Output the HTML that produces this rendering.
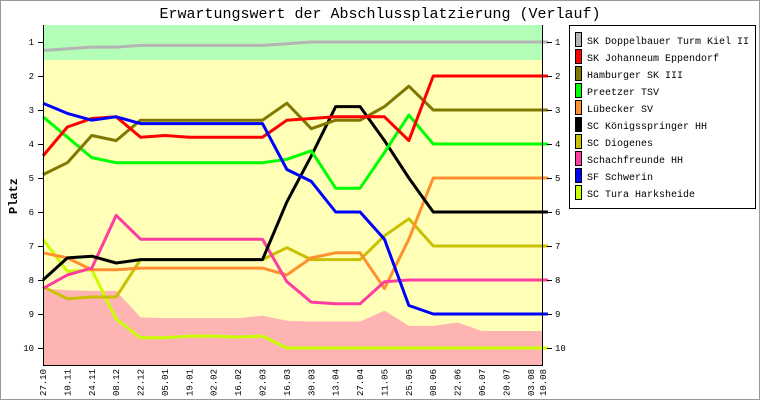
<!DOCTYPE html>
<html><head><meta charset="utf-8"><style>
html,body{margin:0;padding:0;background:#fff}
svg{display:block}
text{font-family:"Liberation Mono","DejaVu Sans Mono",monospace}
</style></head><body>
<svg width="760" height="400" xmlns="http://www.w3.org/2000/svg">
<rect x="0.5" y="0.5" width="759" height="399" fill="#fff" stroke="#999"/>
<text x="380" y="18" font-size="15" text-anchor="middle">Erwartungswert der Abschlussplatzierung (Verlauf)</text>
<rect x="43" y="25" width="500" height="340" fill="#ffffb8"/>
<rect x="43" y="25" width="500" height="35" fill="#b4ffb8"/>
<g transform="translate(43,8) scale(24.39,34)">
<polygon fill="#ffb4b4" points="0,8.25 1,8.3 2,8.32 3,8.32 4,9.1 5,9.12 6,9.12 7,9.12 8,9.12 9,9.05 10,9.2 11,9.22 12,9.22 13,9.22 14,8.9 15,9.35 16,9.35 17,9.25 18,9.5 19,9.5 20.5,9.5 20.5,10.5 0,10.5"/>
<g fill="none" stroke-width="3" stroke-linejoin="round">
<polyline vector-effect="non-scaling-stroke" stroke="#b4b4b4" points="0,1.25 1,1.2 2,1.15 3,1.15 4,1.1 5,1.1 6,1.1 7,1.1 8,1.1 9,1.1 10,1.05 11,1 12,1 13,1 14,1 15,1 16,1 17,1 18,1 19,1 20.7,1"/>
<polyline vector-effect="non-scaling-stroke" stroke="#c8ff00" points="0,6.8 1,7.75 2,7.7 3,9.15 4,9.7 5,9.7 6,9.65 7,9.65 8,9.68 9,9.65 10,10 11,10 12,10 13,10 14,10 15,10 16,10 17,10 18,10 19,10 20.7,10"/>
<polyline vector-effect="non-scaling-stroke" stroke="#c8c000" points="0,8.2 1,8.55 2,8.5 3,8.5 4,7.4 5,7.4 6,7.4 7,7.4 8,7.4 9,7.4 10,7.05 11,7.4 12,7.4 13,7.4 14,6.7 15,6.2 16,7 17,7 18,7 19,7 20.7,7"/>
<polyline vector-effect="non-scaling-stroke" stroke="#ff9030" points="0,7.2 1,7.35 2,7.7 3,7.7 4,7.65 5,7.65 6,7.65 7,7.65 8,7.65 9,7.65 10,7.85 11,7.35 12,7.2 13,7.2 14,8.25 15,6.8 16,5 17,5 18,5 19,5 20.7,5"/>
<polyline vector-effect="non-scaling-stroke" stroke="#ff3ca0" points="0,8.25 1,7.85 2,7.65 3,6.1 4,6.8 5,6.8 6,6.8 7,6.8 8,6.8 9,6.8 10,8.05 11,8.65 12,8.7 13,8.7 14,8.05 15,8 16,8 17,8 18,8 19,8 20.7,8"/>
<polyline vector-effect="non-scaling-stroke" stroke="#000000" points="0,8 1,7.35 2,7.3 3,7.5 4,7.4 5,7.4 6,7.4 7,7.4 8,7.4 9,7.4 10,5.7 11,4.35 12,2.9 13,2.9 14,3.9 15,5 16,6 17,6 18,6 19,6 20.7,6"/>
<polyline vector-effect="non-scaling-stroke" stroke="#00ff00" points="0,3.2 1,3.8 2,4.4 3,4.55 4,4.55 5,4.55 6,4.55 7,4.55 8,4.55 9,4.55 10,4.45 11,4.2 12,5.3 13,5.3 14,4.25 15,3.15 16,4 17,4 18,4 19,4 20.7,4"/>
<polyline vector-effect="non-scaling-stroke" stroke="#807800" points="0,4.9 1,4.55 2,3.75 3,3.9 4,3.3 5,3.3 6,3.3 7,3.3 8,3.3 9,3.3 10,2.8 11,3.55 12,3.3 13,3.3 14,2.9 15,2.3 16,3 17,3 18,3 19,3 20.7,3"/>
<polyline vector-effect="non-scaling-stroke" stroke="#ff0000" points="0,4.35 1,3.5 2,3.25 3,3.2 4,3.8 5,3.75 6,3.8 7,3.8 8,3.8 9,3.8 10,3.3 11,3.25 12,3.2 13,3.2 14,3.2 15,3.9 16,2 17,2 18,2 19,2 20.7,2"/>
<polyline vector-effect="non-scaling-stroke" stroke="#0000ff" points="0,2.8 1,3.1 2,3.3 3,3.2 4,3.4 5,3.4 6,3.4 7,3.4 8,3.4 9,3.4 10,4.75 11,5.1 12,6 13,6 14,6.8 15,8.75 16,9 17,9 18,9 19,9 20.7,9"/>
</g></g>
<g stroke="#000" stroke-width="1">
<line x1="43.5" y1="25" x2="43.5" y2="365"/>
<line x1="542.5" y1="25" x2="542.5" y2="365"/>
<line x1="43" y1="365.5" x2="543" y2="365.5"/>
<path d="M38 42.5h5M38 76.5h5M38 110.5h5M38 144.5h5M38 178.5h5M38 212.5h5M38 246.5h5M38 280.5h5M38 314.5h5M38 348.5h5"/>
<path d="M547 42.5h5M547 76.5h5M547 110.5h5M547 144.5h5M547 178.5h5M547 212.5h5M547 246.5h5M547 280.5h5M547 314.5h5M547 348.5h5"/>
</g>
<g font-size="9" text-anchor="end">
<text x="34" y="45">1</text><text x="34" y="79">2</text><text x="34" y="113">3</text><text x="34" y="147">4</text><text x="34" y="181">5</text><text x="34" y="215">6</text><text x="34" y="249">7</text><text x="34" y="283">8</text><text x="34" y="317">9</text><text x="34" y="351">10</text>
</g>
<g font-size="9">
<text x="555" y="45">1</text><text x="555" y="79">2</text><text x="555" y="113">3</text><text x="555" y="147">4</text><text x="555" y="181">5</text><text x="555" y="215">6</text><text x="555" y="249">7</text><text x="555" y="283">8</text><text x="555" y="317">9</text><text x="555" y="351">10</text>
</g>
<text transform="translate(17,196) rotate(-90)" font-size="12" text-anchor="middle" font-weight="bold">Platz</text>
<g font-size="9" text-anchor="end">
<text transform="translate(46,369) rotate(-90)">27.10</text>
<text transform="translate(70.4,369) rotate(-90)">10.11</text>
<text transform="translate(94.8,369) rotate(-90)">24.11</text>
<text transform="translate(119.2,369) rotate(-90)">08.12</text>
<text transform="translate(143.6,369) rotate(-90)">22.12</text>
<text transform="translate(168,369) rotate(-90)">05.01</text>
<text transform="translate(192.3,369) rotate(-90)">19.01</text>
<text transform="translate(216.7,369) rotate(-90)">02.02</text>
<text transform="translate(241.1,369) rotate(-90)">16.02</text>
<text transform="translate(265.5,369) rotate(-90)">02.03</text>
<text transform="translate(289.9,369) rotate(-90)">16.03</text>
<text transform="translate(314.3,369) rotate(-90)">30.03</text>
<text transform="translate(338.7,369) rotate(-90)">13.04</text>
<text transform="translate(363.1,369) rotate(-90)">27.04</text>
<text transform="translate(387.5,369) rotate(-90)">11.05</text>
<text transform="translate(411.9,369) rotate(-90)">25.05</text>
<text transform="translate(436.2,369) rotate(-90)">08.06</text>
<text transform="translate(460.6,369) rotate(-90)">22.06</text>
<text transform="translate(485,369) rotate(-90)">06.07</text>
<text transform="translate(509.4,369) rotate(-90)">20.07</text>
<text transform="translate(533.8,369) rotate(-90)">03.08</text>
<text transform="translate(546,369) rotate(-90)">10.08</text>
</g>
<rect x="569.5" y="25.5" width="186" height="183" fill="#fff" stroke="#000"/>
<g stroke="#000" stroke-width="1">
<rect x="575.5" y="32.5" width="6" height="14" fill="#b4b4b4"/>
<rect x="575.5" y="49.5" width="6" height="14" fill="#ff0000"/>
<rect x="575.5" y="66.5" width="6" height="14" fill="#807800"/>
<rect x="575.5" y="83.5" width="6" height="14" fill="#00ff00"/>
<rect x="575.5" y="100.5" width="6" height="14" fill="#ff9030"/>
<rect x="575.5" y="117.5" width="6" height="14" fill="#000000"/>
<rect x="575.5" y="134.5" width="6" height="14" fill="#c8c000"/>
<rect x="575.5" y="151.5" width="6" height="14" fill="#ff3ca0"/>
<rect x="575.5" y="168.5" width="6" height="14" fill="#0000ff"/>
<rect x="575.5" y="185.5" width="6" height="14" fill="#c8ff00"/>
</g>
<g font-size="10">
<text x="587" y="44">SK Doppelbauer Turm Kiel II</text>
<text x="587" y="61">SK Johanneum Eppendorf</text>
<text x="587" y="78">Hamburger SK III</text>
<text x="587" y="95">Preetzer TSV</text>
<text x="587" y="112">Lübecker SV</text>
<text x="587" y="129">SC Königsspringer HH</text>
<text x="587" y="146">SC Diogenes</text>
<text x="587" y="163">Schachfreunde HH</text>
<text x="587" y="180">SF Schwerin</text>
<text x="587" y="197">SC Tura Harksheide</text>
</g>
</svg>
</body></html>
